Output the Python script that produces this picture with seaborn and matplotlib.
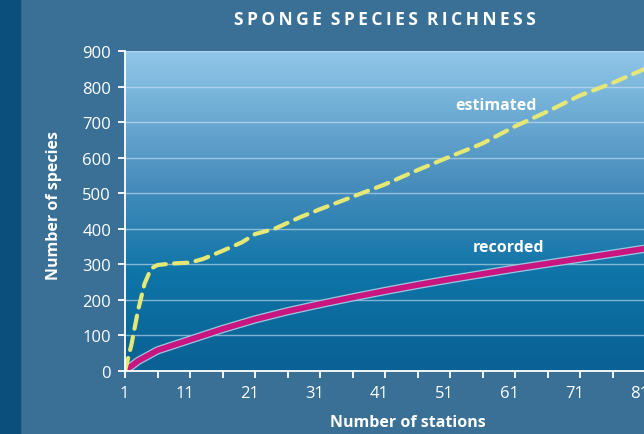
import numpy as np
import pandas as pd
import matplotlib
matplotlib.use("Agg")
import matplotlib.pyplot as plt
import matplotlib.patheffects as pe
import matplotlib.transforms as mtransforms
from matplotlib.colors import LinearSegmentedColormap
import seaborn as sns

# values
rec_stations = [1, 2, 3, 6, 11, 16, 21, 26, 31, 36, 41, 46, 51, 56, 61, 66, 71, 76, 81, 86]
rec_species = [3, 14, 28, 58, 88, 118, 145, 168, 188, 207, 225, 242, 258, 273, 288, 302, 316, 330, 344, 358]

est_stations = [1, 2, 3, 4, 5, 6, 8, 11, 13, 16, 19, 21, 24, 28, 31, 36, 41, 46, 51, 56, 61, 66, 71, 76, 81, 86]
est_species = [0, 75, 170, 245, 288, 298, 302, 305, 315, 338, 362, 385, 400, 433, 455, 490, 525, 565, 603, 640,
               688, 730, 775, 810, 850, 885]

x_ticks = list(range(1, 86, 10))
y_ticks = list(range(0, 901, 100))

BG = "#3a7096"
STRIP = "#0b4f7c"
WHITE = "#ffffff"

sns.set_theme(style="white")
plt.rcParams["font.family"] = ["Open Sans", "DejaVu Sans"]

fig = plt.figure(figsize=(6.44, 4.35), dpi=100, facecolor=BG)
fig.patches.append(plt.Rectangle((0, 0), 20 / 644, 1, transform=fig.transFigure,
                                 color=STRIP, zorder=-5))

ax = fig.add_axes([125 / 644, 63 / 435, 552.5 / 644, 320 / 435])
ax.set_xlim(1, 86)
ax.set_ylim(0, 900)

# gradient background of the plot area
cmap = LinearSegmentedColormap.from_list(
    "sea", [(0, "#0a6193"), (0.3, "#0e74a7"), (0.6, "#4a8fbe"), (1, "#90c7e9")])
grad = np.linspace(0, 1, 256).reshape(-1, 1)
ax.imshow(grad, cmap=cmap, aspect="auto", origin="lower",
          extent=(1, 86, 0, 900), zorder=0)

for y in y_ticks[1:]:
    ax.axhline(y, color="#cfe4f1", alpha=0.6, lw=1.0, zorder=1)

df_rec = pd.DataFrame({"stations": rec_stations, "species": rec_species})
df_est = pd.DataFrame({"stations": est_stations, "species": est_species})

sns.lineplot(data=df_rec, x="stations", y="species", ax=ax, color="#c8157f", lw=4.2,
             zorder=3, path_effects=[pe.Stroke(linewidth=6.0, foreground="#9cc6e0"), pe.Normal()])
sns.lineplot(data=df_est, x="stations", y="species", ax=ax, color="#e6e875", lw=3.0,
             zorder=4)
ax.lines[-1].set_dashes([3.2, 2.0])
ax.lines[-1].set_dash_capstyle("round")

ax.text(58, 748, "estimated", color=WHITE, fontsize=11.5, fontweight="bold", ha="center", va="center")
ax.text(60, 350, "recorded", color=WHITE, fontsize=11.5, fontweight="bold", ha="center", va="center")

for s in ["top", "right"]:
    ax.spines[s].set_visible(False)
for s in ["left", "bottom"]:
    ax.spines[s].set_color(WHITE)
    ax.spines[s].set_linewidth(1.3)
    ax.spines[s].set_zorder(5)

ax.set_xticks(x_ticks)
ax.set_xticks(list(range(6, 86, 10)), minor=True)
ax.set_yticks(y_ticks)
ax.tick_params(axis="both", which="both", colors=WHITE, direction="out", width=1.3,
               labelsize=12, labelcolor=WHITE)
ax.tick_params(axis="x", which="both", length=5, pad=5)
ax.tick_params(axis="y", length=5, pad=5)
ax.tick_params(axis="both", which="both", bottom=True, left=True)

# labels in the original sit a little left of their ticks
for i, lbl in enumerate(ax.get_xticklabels()):
    dx = -1 if i == 0 else -5.5
    lbl.set_transform(lbl.get_transform() + mtransforms.ScaledTranslation(dx / 100, 0, fig.dpi_scale_trans))

ax.set_xlabel("Number of stations", color=WHITE, fontsize=11.5, fontweight="bold", va="top")
ax.xaxis.set_label_coords((408 - 125) / 552.5, -43 / 320)
ax.set_ylabel("Number of species", color=WHITE, fontsize=11.5, fontweight="bold")
ax.yaxis.set_label_coords(-(125 - 62) / 552.5, (372 - 206) / 320)

fig.text(385 / 644, 1 - 20 / 435, "S P O N G E   S P E C I E S   R I C H N E S S".replace(" ", "\u2009").replace("\u2009\u2009\u2009", "  "),
         color=WHITE, fontsize=12.5, fontweight="bold", ha="center", va="center")

fig.savefig("out.png", dpi=100, facecolor=BG)
